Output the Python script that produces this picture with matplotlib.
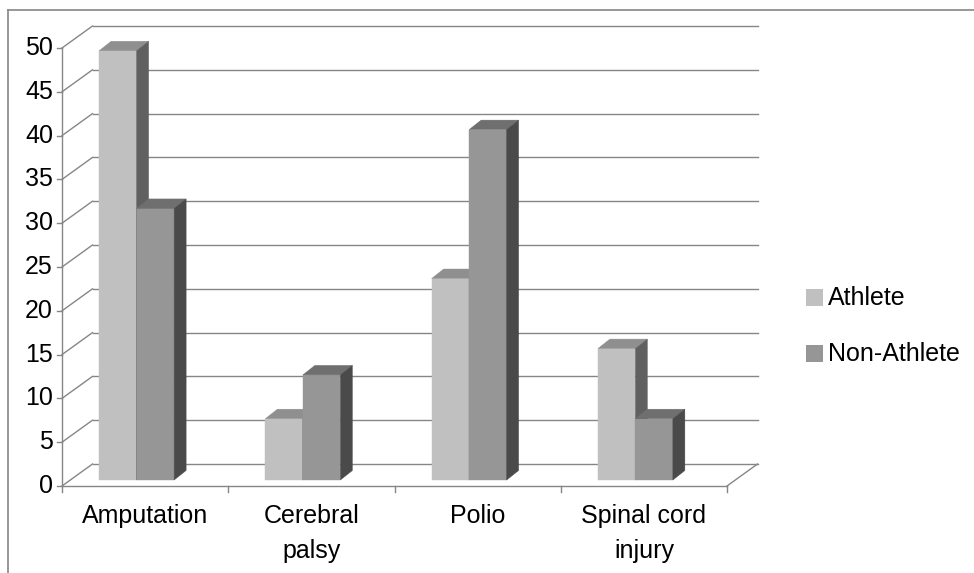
import matplotlib
matplotlib.use("Agg")
import matplotlib.pyplot as plt
from matplotlib.patches import Polygon, Rectangle
from matplotlib.lines import Line2D

# ---- data ----
categories = ["Amputation", "Cerebral\npalsy", "Polio", "Spinal cord\ninjury"]
athlete = [49, 7, 23, 15]
non_athlete = [31, 12, 40, 7]
series_names = ["Athlete", "Non-Athlete"]
y_ticks = list(range(0, 55, 5))

# ---- style ----
plt.rcParams['font.family'] = ['Liberation Sans', 'DejaVu Sans']
FS = 18
GRID = "#868686"
front_cols = ["#c0c0c0", "#969696"]
top_cols = ["#8f8f8f", "#6f6f6f"]
side_cols = ["#606060", "#4a4a4a"]

W, H = 974, 573
fig = plt.figure(figsize=(W / 100, H / 100), dpi=100)
ax = fig.add_axes([0, 0, 1, 1])
ax.set_axis_off()

# pixel layout -> data units
X0, CW = 62, 166.25          # left edge of category axis, px per category
Y0, VS = 486, 8.76           # px of value 0, px per unit
ax.set_xlim(-0.5 - X0 / CW, -0.5 + (W - X0) / CW)
ax.set_ylim(-(H - Y0) / VS, Y0 / VS)

px = lambda p: p / CW        # horizontal px -> data
py = lambda p: p / VS        # vertical px -> data

DX, DY = px(30.5), py(22)    # wall depth
n = len(categories)
xl, xr = -0.5, n - 0.5
lw = 1.0

# walls / gridlines
for v in y_ticks:
    ax.plot([xl, xl + DX], [v, v + DY], color=GRID, lw=lw, zorder=1)
    ax.plot([xl + DX, xr + DX], [v + DY, v + DY], color=GRID, lw=lw, zorder=1)
    ax.plot([xl - px(5), xl], [v, v], color=GRID, lw=lw, zorder=1)
    ax.text(xl - px(9), v, str(v), ha="right", va="center", fontsize=FS)
# floor front edge, right diagonal, y axis
ax.plot([xl, xr], [0, 0], color=GRID, lw=lw, zorder=1)
ax.plot([xr, xr + DX], [0, DY], color=GRID, lw=lw, zorder=1)
ax.plot([xl, xl], [0, y_ticks[-1]], color=GRID, lw=lw, zorder=1)
for i in range(n + 1):
    ax.plot([xl + i, xl + i], [0, -py(6)], color=GRID, lw=lw, zorder=1)

# category labels
for i, c in enumerate(categories):
    ax.text(i, -py(18), c, ha="center", va="top", fontsize=FS, linespacing=1.58)

# bars
bw = px(37.5)
off = px(46)
bot = py(6)
tdx, tdy = px(12), py(9.5)
for i in range(n):
    for s, vals in enumerate([athlete, non_athlete]):
        x0 = i - off + s * bw
        x1 = x0 + bw
        top = bot + vals[i]
        z = 3 + i * 2 + s
        ax.add_patch(Polygon([(x0, bot), (x1, bot), (x1, top), (x0, top)],
                             closed=True, fc=front_cols[s], ec=front_cols[s], lw=0.3, zorder=z))
        ax.add_patch(Polygon([(x0, top), (x1, top), (x1 + tdx, top + tdy), (x0 + tdx, top + tdy)],
                             closed=True, fc=top_cols[s], ec=top_cols[s], lw=0.3, zorder=z))
        ax.add_patch(Polygon([(x1, bot), (x1 + tdx, bot + tdy), (x1 + tdx, top + tdy), (x1, top)],
                             closed=True, fc=side_cols[s], ec=side_cols[s], lw=0.3, zorder=z))

# legend
for s, name in enumerate(series_names):
    yc = 298 + s * 56
    fig.add_artist(Rectangle((806 / W, 1 - (yc + 8) / H), 17 / W, 17 / H,
                             transform=fig.transFigure, fc=front_cols[s], ec="none"))
    fig.text(828 / W, 1 - yc / H, name, ha="left", va="center", fontsize=FS)

# outer border (top and left visible)
fig.add_artist(Line2D([8 / W, 1], [1 - 10 / H, 1 - 10 / H], transform=fig.transFigure, color=GRID, lw=1.2))
fig.add_artist(Line2D([8 / W, 8 / W], [0, 1 - 10 / H], transform=fig.transFigure, color=GRID, lw=1.2))

fig.savefig("out.png", dpi=100, facecolor="white")
